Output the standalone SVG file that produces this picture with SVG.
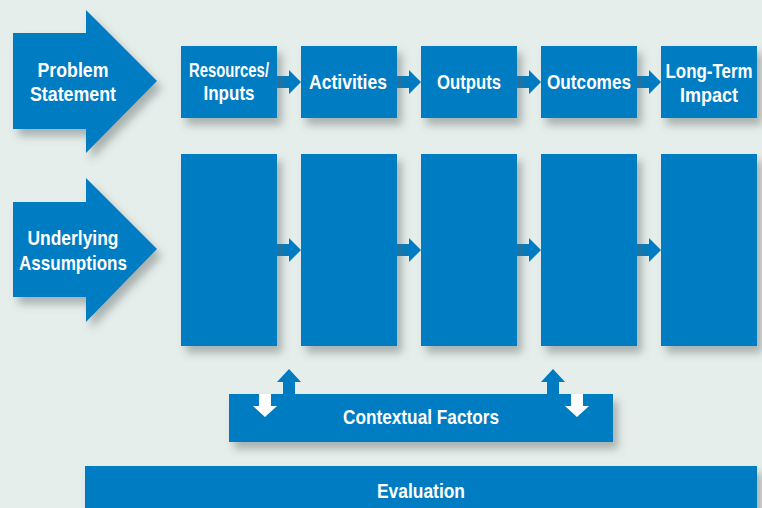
<svg xmlns="http://www.w3.org/2000/svg" width="762" height="508" viewBox="0 0 762 508">
<defs>
<filter id="sh" x="-20%" y="-20%" width="150%" height="150%">
<feDropShadow dx="5" dy="7" stdDeviation="4.5" flood-color="#5a6866" flood-opacity="0.45"/>
</filter>
<style>
.b{fill:#007bc2}
.w{fill:#ffffff}
.t{fill:#ffffff;font-family:"Liberation Sans Narrow","Liberation Sans",Arial,sans-serif;font-weight:bold;font-size:20.5px;text-anchor:middle}
</style>
</defs>
<rect width="762" height="508" fill="#e6eeec"/>
<g id="connectors" class="b">
<polygon points="277,76 289,76 289,70 301,82 289,94 289,88 277,88"/>
<polygon points="397,76 409,76 409,70 421,82 409,94 409,88 397,88"/>
<polygon points="517,76 529,76 529,70 541,82 529,94 529,88 517,88"/>
<polygon points="637,76 649,76 649,70 661,82 649,94 649,88 637,88"/>
<polygon points="277,244 289,244 289,238 301,250 289,262 289,256 277,256"/>
<polygon points="397,244 409,244 409,238 421,250 409,262 409,256 397,256"/>
<polygon points="517,244 529,244 529,238 541,250 529,262 529,256 517,256"/>
<polygon points="637,244 649,244 649,238 661,250 649,262 649,256 637,256"/>
<polygon points="283,394 283,382 277,382 289,369 301,382 295,382 295,394"/>
<polygon points="547,394 547,382 541,382 553,369 565,382 559,382 559,394"/>
</g>
<g id="problem-statement">
<polygon class="b" filter="url(#sh)" points="13,33 86,33 86,10 157,81 86,153 86,129 13,129"/>
<text class="t" x="73" y="77" textLength="71" lengthAdjust="spacingAndGlyphs">Problem</text>
<text class="t" x="73" y="101" textLength="86" lengthAdjust="spacingAndGlyphs">Statement</text>
</g>
<g id="underlying-assumptions">
<polygon class="b" filter="url(#sh)" points="13,202 86,202 86,178 157,249 86,322 86,297 13,297"/>
<text class="t" x="73" y="245" textLength="91" lengthAdjust="spacingAndGlyphs">Underlying</text>
<text class="t" x="73" y="270" textLength="108" lengthAdjust="spacingAndGlyphs">Assumptions</text>
</g>
<g id="resources">
<rect class="b" filter="url(#sh)" x="181" y="46" width="96" height="72"/>
<text class="t" x="229" y="77" textLength="80" lengthAdjust="spacingAndGlyphs">Resources/</text>
<text class="t" x="229" y="100" textLength="51" lengthAdjust="spacingAndGlyphs">Inputs</text>
</g>
<g id="activities">
<rect class="b" filter="url(#sh)" x="301" y="46" width="96" height="72"/>
<text class="t" x="348" y="89" textLength="78" lengthAdjust="spacingAndGlyphs">Activities</text>
</g>
<g id="outputs">
<rect class="b" filter="url(#sh)" x="421" y="46" width="96" height="72"/>
<text class="t" x="469" y="89" textLength="64" lengthAdjust="spacingAndGlyphs">Outputs</text>
</g>
<g id="outcomes">
<rect class="b" filter="url(#sh)" x="541" y="46" width="96" height="72"/>
<text class="t" x="589" y="89" textLength="84" lengthAdjust="spacingAndGlyphs">Outcomes</text>
</g>
<g id="long-term-impact">
<rect class="b" filter="url(#sh)" x="661" y="46" width="96" height="72"/>
<text class="t" x="709" y="78" textLength="87" lengthAdjust="spacingAndGlyphs">Long-Term</text>
<text class="t" x="709" y="102" textLength="58" lengthAdjust="spacingAndGlyphs">Impact</text>
</g>
<g id="col1"><rect class="b" filter="url(#sh)" x="181" y="154" width="96" height="192"/></g>
<g id="col2"><rect class="b" filter="url(#sh)" x="301" y="154" width="96" height="192"/></g>
<g id="col3"><rect class="b" filter="url(#sh)" x="421" y="154" width="96" height="192"/></g>
<g id="col4"><rect class="b" filter="url(#sh)" x="541" y="154" width="96" height="192"/></g>
<g id="col5"><rect class="b" filter="url(#sh)" x="661" y="154" width="96" height="192"/></g>
<g id="contextual-factors">
<rect class="b" filter="url(#sh)" x="229" y="394" width="384" height="48"/>
<polygon class="w" points="259,394 271,394 271,406 277,406 265,417 253,406 259,406"/>
<polygon class="w" points="571,394 583,394 583,406 589,406 577,417 565,406 571,406"/>
<text class="t" x="421" y="424" textLength="156" lengthAdjust="spacingAndGlyphs">Contextual Factors</text>
</g>
<g id="evaluation">
<rect class="b" filter="url(#sh)" x="85" y="466" width="672" height="50"/>
<text class="t" x="421" y="498" textLength="88" lengthAdjust="spacingAndGlyphs">Evaluation</text>
</g>
</svg>
